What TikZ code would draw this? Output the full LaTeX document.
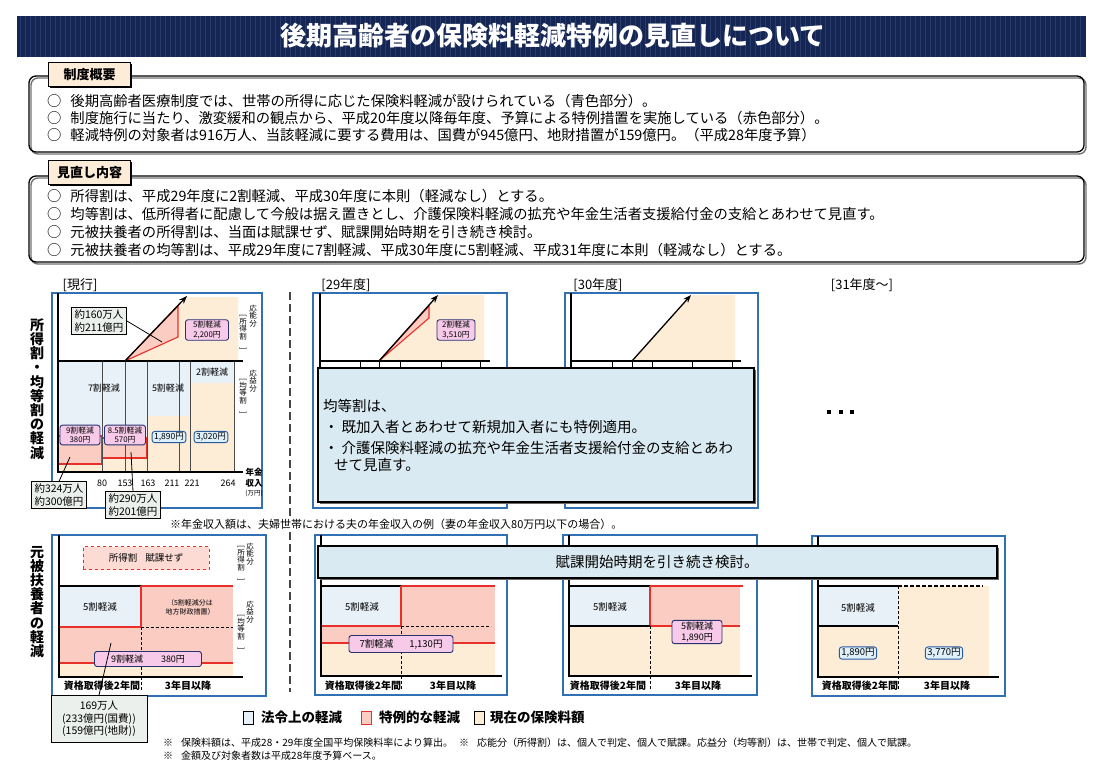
\documentclass[tikz,border=0pt]{standalone}
\usepackage{fontspec}
\setmainfont{Noto Sans CJK JP}
\usetikzlibrary{arrows.meta}
\newcommand\myfs[2]{\fontsize{#1}{#2}\selectfont}
\newcommand\vbo{\rotatebox{-90}{[}}
\newcommand\vbc{\rotatebox{-90}{]}}
\definecolor{navy}{RGB}{22,38,84}
\definecolor{navystripe}{RGB}{40,60,110}
\definecolor{lblue}{RGB}{232,241,248}
\definecolor{pinkfill}{RGB}{250,204,194}
\definecolor{lred}{RGB}{232,48,42}
\definecolor{beige}{RGB}{253,236,214}
\definecolor{tagpink}{RGB}{246,202,232}
\definecolor{tagnavy}{RGB}{40,50,110}
\definecolor{tagbluefill}{RGB}{222,240,250}
\definecolor{tagblue}{RGB}{40,90,160}
\definecolor{frameblue}{RGB}{50,112,182}
\definecolor{calloutgray}{RGB}{236,240,236}
\definecolor{overlayblue}{RGB}{218,234,242}
\definecolor{tabbeige}{RGB}{253,236,216}
\definecolor{sepgray}{RGB}{70,70,70}
\begin{document}
\begin{tikzpicture}[x=1pt,y=-1pt,
  body/.style={anchor=west, inner sep=0, font=\myfs{14.3}{16}},
  tabbox/.style={draw=black, line width=1.1, fill=tabbeige, minimum width=82, minimum height=24, inner sep=0, font=\myfs{13}{15}\bfseries},
  frm/.style={draw=frameblue, line width=1.2},
  ax/.style={line width=1.4, black},
  hl/.style={line width=1.2, black},
  redl/.style={draw=lred, line width=1.1},
  grid/.style={line width=0.5, black!70},
  lbl/.style={inner sep=0, font=\myfs{9}{10}},
  ptag/.style={draw=tagnavy, fill=tagpink, rounded corners=2.5, line width=0.9, inner xsep=1.5pt, inner ysep=1.5pt, align=center, font=\myfs{7.8}{9.5}},
  btag/.style={draw=tagblue, fill=tagbluefill, rounded corners=2.5, line width=0.9, inner xsep=2pt, inner ysep=1.5pt, font=\myfs{8.5}{9.5}},
  callout/.style={draw=black, fill=calloutgray, line width=0.9, align=center, inner xsep=3pt, inner ysep=2pt, font=\myfs{10.5}{12.5}},
  vsm/.style={align=center, inner sep=0, font=\myfs{7.5}{7.6}},
  vbig/.style={align=center, inner sep=0, font=\myfs{14}{14.2}\bfseries},
  xl/.style={inner sep=0, font=\myfs{10}{11}\bfseries},
  yl/.style={inner sep=0, font=\myfs{9}{10}},
  leader/.style={line width=0.8, black}
]
\useasboundingbox (0,0) rectangle (1100,778);
\fill[white] (0,0) rectangle (1100,778);

% ---------- title bar ----------
\fill[navy] (17,16) rectangle (1086,57);
\foreach \i in {20,25,...,1084} \draw[navystripe, line width=1] (\i,16) -- (\i,57);
\node[font=\myfs{26}{30}\bfseries, text=white, inner sep=0] (title) at (553,36) {後期高齢者の保険料軽減特例の見直しについて};

% ---------- section 1 ----------
\draw[black!55, line width=1.4, rounded corners=7] (31,78) rectangle (1086,154);
\draw[black, line width=1.3, rounded corners=7] (29,76) rectangle (1084,152);
\fill[black] (50,64) rectangle (132,88);
\node[tabbox, anchor=north west] (tab1) at (48,62) {制度概要};
\node[body] (s1a) at (47,101) {○\hspace{9pt}後期高齢者医療制度では、世帯の所得に応じた保険料軽減が設けられている（青色部分）。};
\node[body] (s1b) at (47,118) {○\hspace{9pt}制度施行に当たり、激変緩和の観点から、平成20年度以降毎年度、予算による特例措置を実施している（赤色部分）。};
\node[body] (s1c) at (47,135) {○\hspace{9pt}軽減特例の対象者は916万人、当該軽減に要する費用は、国費が945億円、地財措置が159億円。（平成28年度予算）};

% ---------- section 2 ----------
\draw[black!55, line width=1.4, rounded corners=7] (31,178) rectangle (1086,264);
\draw[black, line width=1.3, rounded corners=7] (29,176) rectangle (1084,262);
\fill[black] (50,162) rectangle (132,186);
\node[tabbox, anchor=north west] (tab2) at (48,160) {見直し内容};
\node[body] (s2a) at (47,196) {○\hspace{9pt}所得割は、平成29年度に2割軽減、平成30年度に本則（軽減なし）とする。};
\node[body] (s2b) at (47,214) {○\hspace{9pt}均等割は、低所得者に配慮して今般は据え置きとし、介護保険料軽減の拡充や年金生活者支援給付金の支給とあわせて見直す。};
\node[body] (s2c) at (47,232) {○\hspace{9pt}元被扶養者の所得割は、当面は賦課せず、賦課開始時期を引き続き検討。};
\node[body] (s2d) at (47,250) {○\hspace{9pt}元被扶養者の均等割は、平成29年度に7割軽減、平成30年度に5割軽減、平成31年度に本則（軽減なし）とする。};

% ---------- column headings ----------
\node[font=\myfs{13}{15}, inner sep=0] (h0) at (80,285) {[現行]};
\node[font=\myfs{13}{15}, inner sep=0] (h1) at (346,285) {[29年度]};
\node[font=\myfs{13}{15}, inner sep=0] (h2) at (598,285) {[30年度]};
\node[font=\myfs{13}{15}, inner sep=0] (h3) at (862,285) {[31年度～]};

% vertical titles
\node[vbig] (vt1) at (37,389) {所\\得\\割\\・\\均\\等\\割\\の\\軽\\減};
\node[vbig] (vt2) at (37,602) {元\\被\\扶\\養\\者\\の\\軽\\減};

% separator
\draw[sepgray, line width=2.6, dash pattern=on 8pt off 4pt] (290,292) -- (290,692);

% ================= top-left chart (current) =================
\draw[frm] (52,293) rectangle (262,508);
\fill[beige] (125,361) -- (187,297) -- (238,297) -- (238,361) -- cycle;
\filldraw[fill=pinkfill, redl] (125,361) -- (178,306) -- (178,337) -- cycle;
\filldraw[fill=lblue, draw=black, line width=0.7] (58,361) rectangle (102,436);
\filldraw[fill=lblue, draw=black, line width=0.7] (102,361) rectangle (147,438);
\filldraw[fill=lblue, draw=black, line width=0.7] (147,361) rectangle (190,416);
\filldraw[fill=lblue, draw=black, line width=0.7] (190,361) rectangle (234,383);
\fill[beige] (58,464) rectangle (102,472);
\fill[beige] (102,458) rectangle (147,472);
\fill[beige] (147,416) rectangle (190,472);
\fill[beige] (190,383) rectangle (234,472);
\filldraw[fill=pinkfill, redl] (58,436) rectangle (102,464);
\filldraw[fill=pinkfill, redl] (102,438) rectangle (147,458);
\foreach \gx in {102,125,147,179,190,234} \draw[grid] (\gx,361) -- (\gx,472);
\draw[hl] (58,361) -- (243,361);
\draw[ax] (58,293) -- (58,472) -- (243,472);
\coordinate (apexA) at (125,361);
\coordinate (tipA) at (187,296);
\draw[line width=1.3, -{Stealth[length=8pt,width=6pt]}] (apexA) -- (tipA);
\node[lbl] (t7a) at (104,388) {7割軽減};
\node[lbl] (t5a) at (168,388) {5割軽減};
\node[lbl] (t2a) at (212,372) {2割軽減};
\node[ptag, minimum width=40] (g9) at (80,435) {9割軽減\\380円};
\node[ptag, minimum width=41] (g85) at (125,435) {8.5割軽減\\570円};
\node[btag] (g1890) at (169,437) {1,890円};
\node[btag] (g3020) at (211,437) {3,020円};
\node[ptag, minimum width=43] (g2200) at (207,330) {5割軽減\\2,200円};
\node[callout] (c160) at (99,321) {約160万人\\約211億円};
\coordinate (p160) at (162,342);
\draw[leader] (c160.east) -- (p160);
\node[yl] (x80) at (102,483) {80};
\node[yl] (x153) at (125,483) {153};
\node[yl] (x163) at (148,483) {163};
\node[yl] (x211) at (172,483) {211};
\node[yl] (x221) at (192,483) {221};
\node[yl] (x264) at (228,483) {264};
\node[inner sep=0, font=\myfs{8.5}{9}\bfseries] (xn1) at (254,472) {年金};
\node[inner sep=0, font=\myfs{8.5}{9}\bfseries] (xn2) at (254,483) {収入};
\node[inner sep=0, font=\myfs{6.5}{7}] (xn3) at (254,493) {(万円)};
\node[vsm] (ra1) at (253,316) {応\\能\\分};
\node[vsm] (ra2) at (243,332) {\vbo\\所\\得\\割\\\vbc};
\node[vsm] (ra3) at (253,381) {応\\益\\分};
\node[vsm] (ra4) at (243,396) {\vbo\\均\\等\\割\\\vbc};
\node[callout] (c324) at (59,495) {約324万人\\約300億円};
\coordinate (p324) at (70,457);
\draw[leader] (c324.north) -- (p324);
\node[callout] (c290) at (133,505) {約290万人\\約201億円};
\coordinate (p290) at (131,452);
\draw[leader] (c290.north) -- (p290);

% ================= top 29 chart =================
\draw[frm] (313,293) rectangle (507,508);
\fill[beige] (379,361) -- (438,295) -- (484,295) -- (484,361) -- cycle;
\filldraw[fill=pinkfill, redl] (379,361) -- (429,306) -- (429,318) -- cycle;
\draw[hl] (320,361) -- (490,361);
\foreach \gx in {360,379,400,441,480} \draw[line width=0.8] (\gx,361) -- (\gx,370);
\draw[ax] (320,293) -- (320,400);
\coordinate (apexB) at (379,361);
\coordinate (tipB) at (438,295);
\draw[line width=1.3, -{Stealth[length=8pt,width=6pt]}] (apexB) -- (tipB);
\node[ptag, minimum width=38] (g3510) at (456,330) {2割軽減\\3,510円};

% ================= top 30 chart =================
\draw[frm] (565,293) rectangle (758,508);
\fill[beige] (632,361) -- (691,295) -- (735,295) -- (735,361) -- cycle;
\draw[hl] (571,361) -- (741,361);
\foreach \gx in {612,632,652,692,732} \draw[line width=0.8] (\gx,361) -- (\gx,370);
\draw[ax] (571,293) -- (571,400);
\coordinate (apexC) at (632,361);
\coordinate (tipC) at (691,295);
\draw[line width=1.3, -{Stealth[length=8pt,width=6pt]}] (apexC) -- (tipC);

% overlay (top)
\fill[black!60] (320,370) rectangle (756,504);
\filldraw[fill=overlayblue, draw=black, line width=1.4] (318,368) rectangle (754,502);
\node[body, font=\myfs{14.5}{16}] (ov1) at (323,406) {均等割は、};
\node[body, font=\myfs{14.5}{16}] (ov2) at (324,427) {・\hspace{3pt}既加入者とあわせて新規加入者にも特例適用。};
\node[body, font=\myfs{14.5}{16}] (ov3) at (324,448) {・\hspace{3pt}介護保険料軽減の拡充や年金生活者支援給付金の支給とあわ};
\node[body, font=\myfs{14.5}{16}] (ov4) at (334,465) {せて見直す。};

% 31 dots
\fill[black] (827,410) rectangle (831,414);
\fill[black] (839,410) rectangle (843,414);
\fill[black] (850,410) rectangle (854,414);

% note
\node[anchor=west, fill=white, inner xsep=0, inner ysep=3pt, font=\myfs{11}{12}] (note1) at (170,524) {※年金収入額は、夫婦世帯における夫の年金収入の例（妻の年金収入80万円以下の場合）。};

% ================= bottom-left chart =================
\draw[frm] (52,535) rectangle (266,696);
\fill[lblue] (59,586) rectangle (141,627);
\fill[pinkfill] (141,586) rectangle (233,663);
\fill[pinkfill] (59,627) rectangle (141,663);
\fill[beige] (59,663) rectangle (233,677);
\draw[hl] (59,586) -- (141,586);
\draw[redl] (141,586) -- (233,586);
\draw[redl] (141,586) -- (141,627);
\draw[redl] (59,627) -- (141,627);
\draw[line width=0.9, dash pattern=on 3pt off 2pt] (141,627) -- (233,627);
\draw[redl] (59,663) -- (233,663);
\draw[line width=0.9, dash pattern=on 3pt off 2pt] (141,627) -- (141,690);
\draw[ax] (59,535) -- (59,677) -- (243,677);
\node[draw=lred, dashed, line width=0.9, fill=pinkfill!70, minimum width=126, minimum height=23, inner sep=0, font=\myfs{9.5}{11}] (fs0) at (146,558) {所得割\hspace{8pt}賦課せず};
\node[lbl, font=\myfs{9.5}{11}] (b5a) at (100,607) {5割軽減};
\node[align=center, inner sep=0, font=\myfs{7}{9}] (b5note) at (190,607) {（5割軽減分は\\地方財政措置）};
\node[ptag, font=\myfs{9}{10}, minimum width=107, minimum height=15, inner ysep=1pt] (b9) at (148,659) {9割軽減\hspace{18pt}380円};
\node[xl] (bx1) at (102,686) {資格取得後2年間};
\node[xl] (bx2) at (188,686) {3年目以降};
\node[vsm] (rb1) at (250,554) {応\\能\\分};
\node[vsm] (rb2) at (241,563) {\vbo\\所\\得\\割\\\vbc};
\node[vsm] (rb3) at (250,612) {応\\益\\分};
\node[vsm] (rb4) at (241,632) {\vbo\\均\\等\\割\\\vbc};
\node[callout, minimum width=96, minimum height=47] (c169) at (99,719) {169万人\\(233億円(国費))\\(159億円(地財))};
\coordinate (p169) at (111,643);
\draw[leader] (c169.north) -- (p169);

% ================= bottom 29 chart =================
\draw[frm] (315,535) rectangle (507,695);
\fill[lblue] (321,586) rectangle (401,626);
\fill[pinkfill] (401,586) rectangle (495,643);
\fill[pinkfill] (321,626) rectangle (401,643);
\fill[beige] (321,643) rectangle (495,676);
\draw[hl] (321,586) -- (401,586);
\draw[redl] (401,586) -- (495,586);
\draw[redl] (401,586) -- (401,626);
\draw[redl] (321,626) -- (401,626);
\draw[line width=0.9, dash pattern=on 3pt off 2pt] (401,626) -- (491,626);
\draw[redl] (321,643) -- (495,643);
\draw[line width=0.9, dash pattern=on 3pt off 2pt] (401,626) -- (401,690);
\draw[ax] (321,535) -- (321,676) -- (502,676);
\node[lbl, font=\myfs{9.5}{11}] (c5a) at (362,607) {5割軽減};
\node[ptag, font=\myfs{9.5}{10}, minimum width=104, minimum height=17, inner ysep=1pt] (c7) at (401,644) {7割軽減\hspace{16pt}1,130円};
\node[xl] (cx1) at (363,686) {資格取得後2年間};
\node[xl] (cx2) at (453,686) {3年目以降};

% ================= bottom 30 chart =================
\draw[frm] (563,535) rectangle (757,695);
\fill[lblue] (569,586) rectangle (650,626);
\fill[pinkfill] (650,586) rectangle (740,626);
\fill[beige] (569,626) rectangle (740,676);
\draw[hl] (569,586) -- (650,586);
\draw[redl] (650,586) -- (743,586);
\draw[redl] (650,586) -- (650,626);
\draw[hl] (569,626) -- (650,626);
\draw[redl] (650,626) -- (740,626);
\draw[line width=0.9, dash pattern=on 3pt off 2pt] (650,626) -- (650,690);
\draw[ax] (569,535) -- (569,676) -- (752,676);
\node[lbl, font=\myfs{9.5}{11}] (d5a) at (610,607) {5割軽減};
\node[ptag, font=\myfs{9}{11}, minimum width=50] (d5) at (697,632) {5割軽減\\1,890円};
\node[xl] (dx1) at (608,686) {資格取得後2年間};
\node[xl] (dx2) at (698,686) {3年目以降};

% ================= bottom 31 chart =================
\draw[frm] (812,536) rectangle (1005,696);
\fill[lblue] (818,586) rectangle (898,626);
\fill[beige] (818,626) rectangle (898,677);
\fill[beige] (898,586) rectangle (989,677);
\draw[hl] (818,586) -- (898,586);
\draw[line width=1.1, dash pattern=on 4pt off 2pt] (898,586) -- (983,586);
\draw[hl] (818,626) -- (898,626);
\draw[line width=0.9, dash pattern=on 3pt off 2pt] (898,586) -- (898,690);
\draw[ax] (818,536) -- (818,677) -- (999,677);
\node[lbl, font=\myfs{9.5}{11}] (e5a) at (858,608) {5割軽減};
\node[btag, font=\myfs{9.5}{11}] (e1890) at (858,653) {1,890円};
\node[btag, font=\myfs{9.5}{11}] (e3770) at (944,653) {3,770円};
\node[xl] (ex1) at (860,686) {資格取得後2年間};
\node[xl] (ex2) at (947,686) {3年目以降};

% overlay (bottom)
\fill[black!60] (320,548) rectangle (999,580);
\filldraw[fill=overlayblue, draw=black, line width=1.3] (318,546) rectangle (997,578);
\node[inner sep=0, font=\myfs{14.5}{16}] (ovb) at (657,562) {賦課開始時期を引き続き検討。};

% ---------- legend ----------
\filldraw[fill=lblue, draw=black, line width=1] (243,711) rectangle (253,724);
\node[anchor=west, inner sep=0, font=\myfs{13.5}{15}\bfseries] (lg1) at (261,717) {法令上の軽減};
\filldraw[fill=pinkfill, draw=lred, line width=1] (361,711) rectangle (371,724);
\node[anchor=west, inner sep=0, font=\myfs{13.5}{15}\bfseries] (lg2) at (379,717) {特例的な軽減};
\filldraw[fill=beige, draw=black, line width=1] (474,711) rectangle (484,724);
\node[anchor=west, inner sep=0, font=\myfs{13.5}{15}\bfseries] (lg3) at (490,717) {現在の保険料額};

% ---------- notes ----------
\node[anchor=west, inner sep=0, font=\myfs{10}{11}] (n1) at (163,743) {※\hspace{8pt}保険料額は、平成28・29年度全国平均保険料率により算出。\hspace{6pt}※\hspace{8pt}応能分（所得割）は、個人で判定、個人で賦課。応益分（均等割）は、世帯で判定、個人で賦課。};
\node[anchor=west, inner sep=0, font=\myfs{10}{11}] (n2) at (163,756) {※\hspace{8pt}金額及び対象者数は平成28年度予算ベース。};
\end{tikzpicture}
\end{document}
